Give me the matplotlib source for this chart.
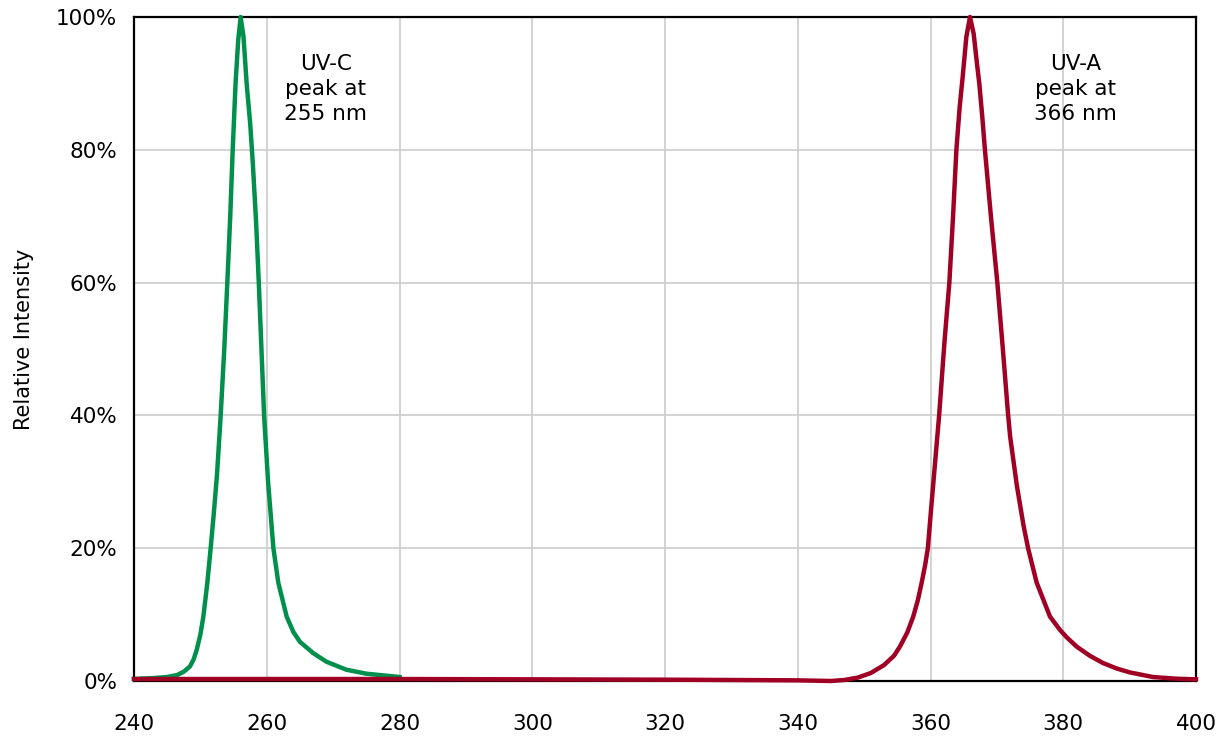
import matplotlib
matplotlib.use("Agg")
import matplotlib.pyplot as plt
from matplotlib.ticker import MultipleLocator, FuncFormatter

# ---- data (wavelength nm, relative intensity %) ----
uvc_nm = [240, 243, 245, 246.5, 247.5, 248.44, 249.0, 249.45, 250.0, 250.45,
          251.05, 251.55, 252.0, 252.5, 253.06, 253.6, 254.06, 254.5, 254.87,
          255.3, 255.7, 256.07, 256.5, 256.97, 257.5, 257.9, 258.4, 258.8,
          259.2, 259.6, 260.2, 261.0, 261.74, 263.0, 264.0, 265.0, 267.0,
          269.0, 272.0, 275.0, 280.0]
uvc_int = [0.3, 0.45, 0.6, 0.9, 1.4, 2.2, 3.3, 4.7, 7.0, 9.7,
           14.8, 20, 25, 31, 40, 50, 60, 70, 80,
           90, 96.5, 100, 97, 90, 84, 78, 69, 60,
           50, 40, 30, 20, 14.8, 9.7, 7.4, 5.9, 4.2,
           2.9, 1.7, 1.1, 0.6]

uva_nm = [240, 280, 320, 340, 345, 347, 349, 351, 353, 354.5, 355.4, 356.5,
          357.4, 358.1, 358.67, 359.2, 359.6, 360.1, 360.7, 361.3, 362.1,
          362.84, 363.4, 363.9, 364.4, 364.85, 365.4, 365.95, 366.5, 367.0,
          367.35, 367.8, 368.2, 369.1, 370.07, 370.9, 371.7, 372.0, 373, 374,
          374.7, 376.0, 378.0, 379.5, 380.5, 382, 384, 386, 388, 390, 393.5,
          397, 400]
uva_int = [0.3, 0.3, 0.2, 0.1, 0.0, 0.15, 0.5, 1.2, 2.4, 3.8, 5.2, 7.3,
           9.7, 12.2, 14.8, 17.5, 20, 26, 33, 40, 51,
           60, 70, 80, 86.5, 91, 97, 100, 97.5, 93,
           90, 85, 80, 70, 60, 50, 40, 36.8, 29.5, 23.5,
           20, 14.8, 9.7, 7.7, 6.6, 5.2, 3.8, 2.7, 1.9, 1.3, 0.6,
           0.35, 0.25]

labels = ["UV-C\npeak at\n255 nm", "UV-A\npeak at\n366 nm"]
label_x = [268.9, 381.9]
label_y = [89.2, 89.2]

GREEN = "#00904C"
RED = "#A00024"

plt.rcParams["font.family"] = ["DejaVu Sans"]

fig = plt.figure(figsize=(12.31, 7.45), dpi=100)
ax = fig.add_axes([134 / 1231, 1 - 681 / 745, (1196 - 134) / 1231, (681 - 17) / 745])

ax.plot(uvc_nm, uvc_int, color=GREEN, lw=3.2, clip_on=False, zorder=3,
        solid_joinstyle="round")
ax.plot(uva_nm, uva_int, color=RED, lw=3.2, clip_on=False, zorder=3,
        solid_joinstyle="round")

for txt, x, y in zip(labels, label_x, label_y):
    ax.text(x, y, txt, ha="center", va="center", fontsize=15.5, linespacing=1.3)

ax.set_xlim(240, 400)
ax.set_ylim(0, 100)
ax.xaxis.set_major_locator(MultipleLocator(20))
ax.yaxis.set_major_locator(MultipleLocator(20))
ax.yaxis.set_major_formatter(FuncFormatter(lambda v, _: f"{v:.0f}%"))
ax.tick_params(axis="both", length=0, labelsize=15.5)
ax.tick_params(axis="x", pad=24)
ax.tick_params(axis="y", pad=12)

ax.grid(True, color="#CCCCCC", linewidth=1.2)
ax.set_axisbelow(True)
for side in ["left", "bottom", "top", "right"]:
    ax.spines[side].set_color("black")
    ax.spines[side].set_linewidth(1.6)

ax.set_ylabel("Relative Intensity", fontsize=15)
ax.yaxis.set_label_coords(-0.094, 0.514)

fig.savefig("out.png", dpi=100)
